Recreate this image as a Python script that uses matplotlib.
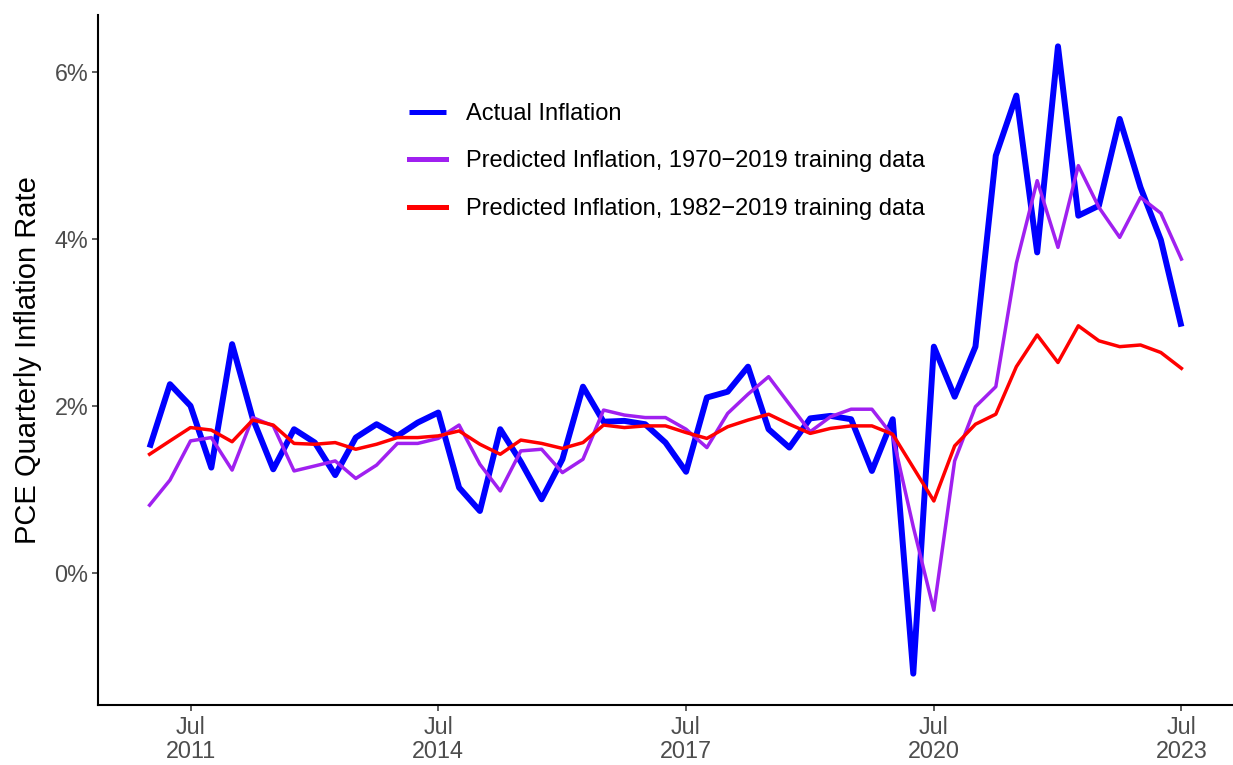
import matplotlib
matplotlib.use("Agg")
import matplotlib.pyplot as plt
import matplotlib.dates as mdates
from matplotlib.ticker import FixedLocator, FuncFormatter
import pandas as pd
import numpy as np

dates = pd.date_range("2011-01-01", periods=51, freq="QS")

actual = [1.50, 2.26, 2.00, 1.26, 2.74, 1.85, 1.24, 1.72, 1.56, 1.17,
          1.62, 1.78, 1.64, 1.80, 1.92, 1.02, 0.74, 1.72, 1.33, 0.88,
          1.36, 2.23, 1.81, 1.82, 1.78, 1.56, 1.21, 2.10, 2.17, 2.47,
          1.72, 1.50, 1.85, 1.88, 1.84, 1.22, 1.84, -1.21, 2.71, 2.11,
          2.71, 5.00, 5.72, 3.84, 6.31, 4.28, 4.40, 5.44, 4.62, 3.99,
          2.95]

pred_1970 = [0.81, 1.11, 1.58, 1.62, 1.23, 1.86, 1.76, 1.22, 1.28, 1.34,
             1.13, 1.29, 1.55, 1.55, 1.61, 1.77, 1.30, 0.98, 1.46, 1.48,
             1.20, 1.36, 1.95, 1.89, 1.86, 1.86, 1.72, 1.50, 1.91, 2.14,
             2.35, 2.02, 1.69, 1.87, 1.96, 1.96, 1.64, 0.55, -0.45, 1.34,
             1.99, 2.23, 3.71, 4.70, 3.90, 4.88, 4.38, 4.02, 4.50, 4.31,
             3.76]

pred_1982 = [1.42, 1.58, 1.74, 1.71, 1.57, 1.83, 1.77, 1.55, 1.54, 1.56,
             1.48, 1.54, 1.62, 1.62, 1.64, 1.70, 1.54, 1.42, 1.59, 1.55,
             1.49, 1.56, 1.77, 1.74, 1.76, 1.76, 1.68, 1.61, 1.75, 1.83,
             1.90, 1.78, 1.67, 1.73, 1.76, 1.76, 1.66, 1.26, 0.86, 1.52,
             1.78, 1.90, 2.47, 2.85, 2.52, 2.96, 2.78, 2.71, 2.73, 2.64,
             2.45]

labels = ["Actual Inflation",
          "Predicted Inflation, 1970\u22122019 training data",
          "Predicted Inflation, 1982\u22122019 training data"]

y_ticks = [0, 2, 4, 6]
x_tick_dates = pd.to_datetime(["2011-07-01", "2014-07-01", "2017-07-01",
                               "2020-07-01", "2023-07-01"])
ylabel = "PCE Quarterly Inflation Rate"

plt.rcParams["font.family"] = ["Liberation Sans", "DejaVu Sans"]

W, H = 1233, 765
fig = plt.figure(figsize=(W / 100, H / 100), dpi=100)
ax = fig.add_axes([98 / W, 1 - 705 / H, (1233 - 98) / W, (705 - 15) / H])

x = mdates.date2num(dates)
l1, = ax.plot(x, actual, color="#0000FF", lw=4.3, solid_joinstyle="round",
              solid_capstyle="butt", label=labels[0], zorder=2)
l2, = ax.plot(x, pred_1970, color="#A020F0", lw=2.5, solid_joinstyle="round",
              label=labels[1], zorder=3)
l3, = ax.plot(x, pred_1982, color="#FF0000", lw=2.5, solid_joinstyle="round",
              label=labels[2], zorder=4)

# ggplot-style 5% expansion
xr = x.max() - x.min()
ax.set_xlim(x.min() - 0.05 * xr, x.max() + 0.05 * xr)
allv = np.concatenate([actual, pred_1970, pred_1982])
yr = allv.max() - allv.min()
ax.set_ylim(allv.min() - 0.05 * yr, allv.max() + 0.05 * yr)

ax.xaxis.set_major_locator(FixedLocator(mdates.date2num(x_tick_dates)))
ax.set_xticklabels([d.strftime("%b\n%Y") for d in x_tick_dates])
ax.yaxis.set_major_locator(FixedLocator(y_ticks))
ax.yaxis.set_major_formatter(FuncFormatter(lambda v, p: f"{v:.0f}%"))

for s in ["top", "right"]:
    ax.spines[s].set_visible(False)
for s in ["left", "bottom"]:
    ax.spines[s].set_linewidth(1.5)
    ax.spines[s].set_color("black")

ax.tick_params(axis="both", length=4, width=1.1, color="#333333",
               labelcolor="#4D4D4D", labelsize=16.8, pad=3)
ax.tick_params(axis="x", pad=4)
for t in ax.get_xticklabels():
    t.set_linespacing(1.05)

ax.set_ylabel(ylabel, fontsize=21, color="black", labelpad=9)

leg = ax.legend(handles=[l1, l2, l3], loc="upper left",
                bbox_to_anchor=(409 / W, 1 - 103 / H),
                bbox_transform=fig.transFigure, frameon=False,
                fontsize=17, handlelength=1.55, handletextpad=0.85,
                labelspacing=1.08, borderpad=0, borderaxespad=0)
for h in leg.get_lines():
    h.set_linewidth(3.6)

fig.savefig("out.png", dpi=100)
